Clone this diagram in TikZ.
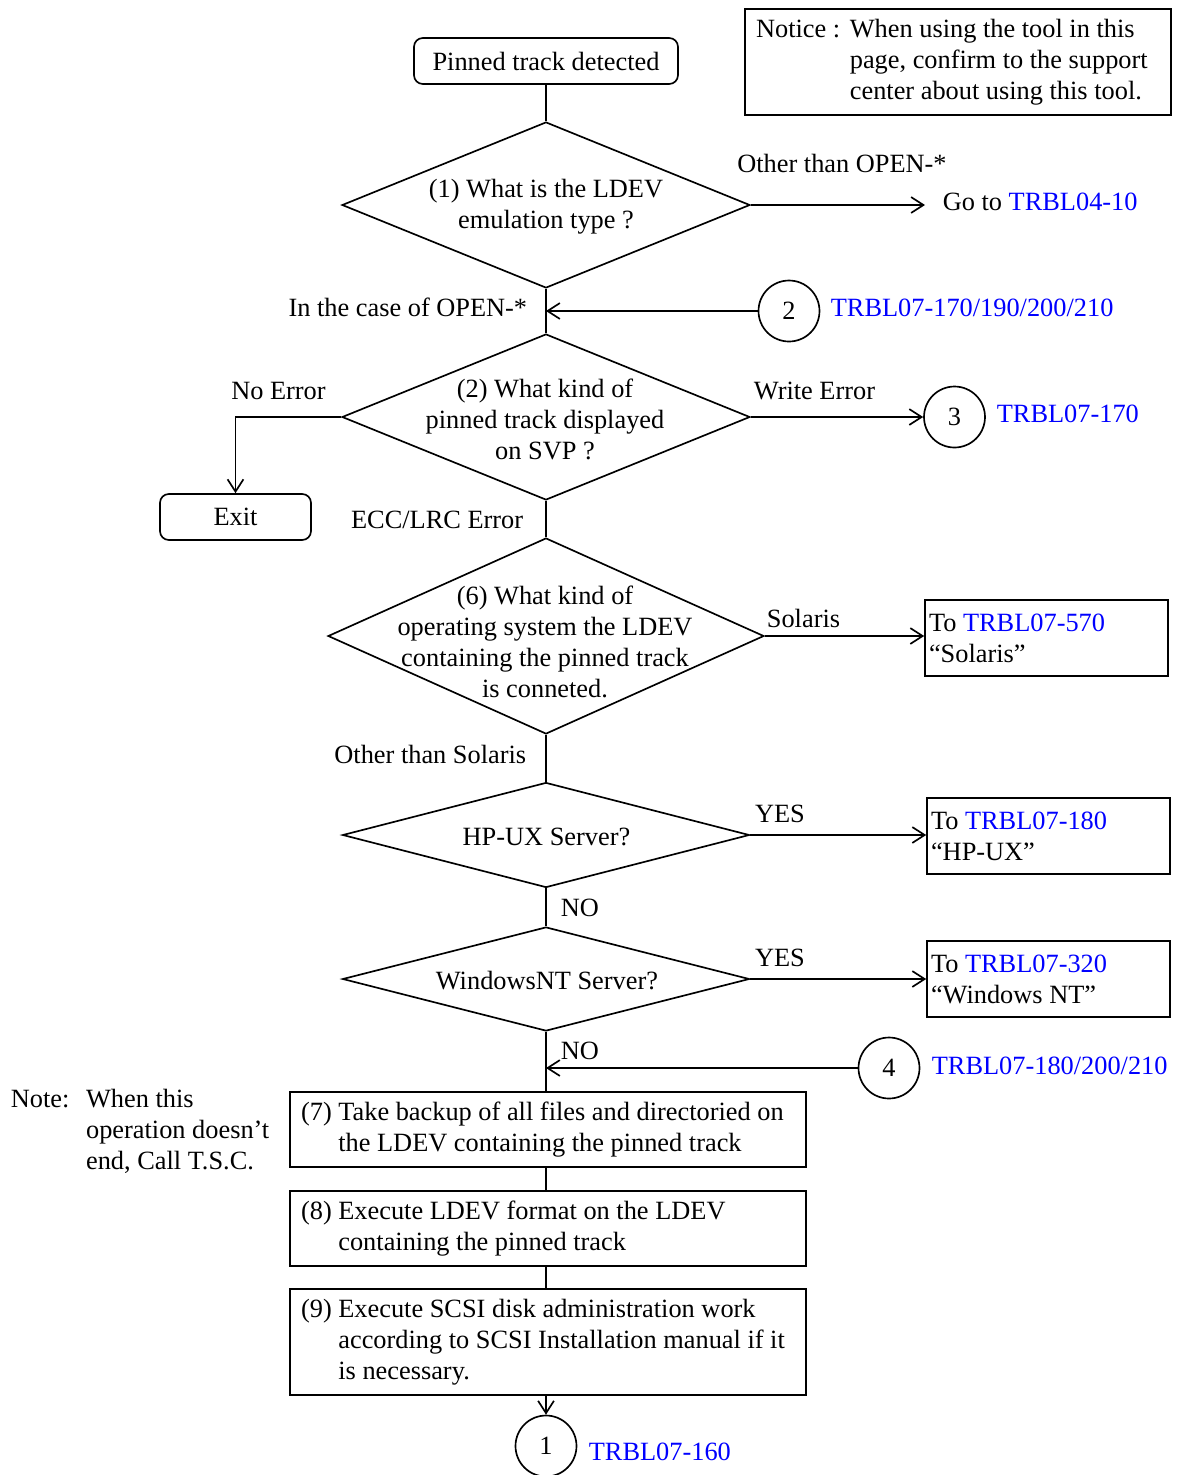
\documentclass[tikz,border=0pt]{standalone}
\usepackage{fontspec}
\setmainfont{Liberation Serif}
\usetikzlibrary{shapes.geometric,arrows.meta}
\definecolor{lnk}{RGB}{0,0,255}
% plain interword spacing inside left-aligned nodes
\newcommand{\natsp}{\spaceskip=0pt\xspaceskip=0pt\relax}
\begin{document}
\begin{tikzpicture}[x=0.02cm,y=-0.02cm,line width=0.95pt,
  font=\fontsize{15}{17.6}\selectfont,
  lbl/.style={inner sep=0pt, text height=11pt, text depth=3pt},
  term/.style={draw, rounded corners=5pt, minimum height=0.92cm, inner sep=0pt},
  dia/.style={draw, diamond, inner sep=0pt},
  dtext/.style={align=center, inner sep=0pt},
  conn/.style={draw, circle, minimum size=1.22cm, inner sep=0pt},
  rbox/.style={draw, minimum width=4.86cm, minimum height=1.52cm, text width=4.70cm,
    inner xsep=0.08cm, inner ysep=0pt, align=left},
  pbox/.style={draw, text width=9.88cm, inner xsep=0.22cm, inner ysep=0pt, align=left},
  arr/.style={-{Straight Barb[length=7pt,width=9pt]}},
]
\useasboundingbox (0,0) rectangle (1177,1475);

% notice box
\node[draw, minimum width=8.52cm, minimum height=2.12cm, text width=8.08cm,
  inner xsep=0.22cm, inner ysep=0pt, align=left] (notice) at (958,62)
  {\natsp\begin{tabular}{@{}l@{\hspace{5.5pt}}l@{}}Notice : & When using the tool in this\\
   & page, confirm to the support\\ & center about using this tool.\end{tabular}};

% main flow
\node[term, minimum width=5.28cm] (start) at (546,61) {Pinned track detected};

\node[dia, minimum width=8.16cm, minimum height=3.32cm] (d1) at (546,205) {};
\node[dtext] (d1t) at (546,207) {(1) What is the LDEV\\emulation type ?};

\node[dia, minimum width=8.16cm, minimum height=3.32cm] (d2) at (546,417) {};
\node[dtext] (d2t) at (545,419) {(2) What kind of\\pinned track displayed\\on SVP ?};

\node[term, minimum width=3.02cm] (exit) at (235.5,517) {Exit};

\node[dia, minimum width=8.72cm, minimum height=3.92cm] (d3) at (546,636) {};
\node[dtext] (d3t) at (545,642) {(6) What kind of\\operating system the LDEV\\containing the pinned track\\is conneted.};

\node[dia, minimum width=8.14cm, minimum height=2.10cm] (d4) at (546,835) {};
\node[dtext] (d4t) at (546.5,837) {HP-UX Server?};

\node[dia, minimum width=8.14cm, minimum height=2.08cm] (d5) at (546,979) {};
\node[dtext] (d5t) at (547,981) {WindowsNT Server?};

\node[pbox, minimum height=1.5cm] (b7) at (548,1129.5)
  {\natsp\begin{tabular}{@{}l@{\ }l@{}}(7) & Take backup of all files and directoried on\\
   & the LDEV containing the pinned track\end{tabular}};
\node[pbox, minimum height=1.5cm] (b8) at (548,1228.5)
  {\natsp\begin{tabular}{@{}l@{\ }l@{}}(8) & Execute LDEV format on the LDEV\\
   & containing the pinned track\end{tabular}};
\node[pbox, minimum height=2.12cm] (b9) at (548,1342)
  {\natsp\begin{tabular}{@{}l@{\ }l@{}}(9) & Execute SCSI disk administration work\\
   & according to SCSI Installation manual if it\\ & is necessary.\end{tabular}};

% off-page connectors
\node[conn] (c2) at (789,311) {2};
\node[conn] (c3) at (954.5,417) {3};
\node[conn] (c4) at (889,1068) {4};
\node[conn] (c1) at (546,1446) {1};
\node[lbl, anchor=west] (c2t) at (830,309) {\textcolor{lnk}{TRBL07-170/190/200/210}};
\node[lbl, anchor=west] (c3t) at (996,415) {\textcolor{lnk}{TRBL07-170}};
\node[lbl, anchor=west] (c4t) at (931,1067) {\textcolor{lnk}{TRBL07-180/200/210}};
\node[lbl, anchor=west] (c1t) at (588,1453) {\textcolor{lnk}{TRBL07-160}};

% destination boxes
\node[rbox] (sol) at (1046.5,638) {\natsp To \textcolor{lnk}{TRBL07-570}\\“Solaris”};
\node[rbox] (hp) at (1048.5,836) {\natsp To \textcolor{lnk}{TRBL07-180}\\“HP-UX”};
\node[rbox] (nt) at (1048.5,979) {\natsp To \textcolor{lnk}{TRBL07-320}\\“Windows NT”};

\coordinate (g1) at (925,205);
\node[lbl, anchor=west] (goto) at (942,203) {Go to \textcolor{lnk}{TRBL04-10}};

% branch labels
\node[lbl] (oth) at (842,165) {Other than OPEN-*};
\node[lbl, anchor=east] (case) at (528,309) {In the case of OPEN-*};
\node[lbl] (noerr) at (278.5,392) {No Error};
\node[lbl] (wrerr) at (814.5,392) {Write Error};
\node[lbl, anchor=east] (ecc) at (524,521) {ECC/LRC Error};
\node[lbl] (solt) at (803.5,620) {Solaris};
\node[lbl, anchor=east] (oths) at (527,756) {Other than Solaris};
\node[lbl] (yes1) at (780,815) {YES};
\node[lbl, anchor=west] (no1) at (560,909) {NO};
\node[lbl] (yes2) at (780,959) {YES};
\node[lbl, anchor=west] (no2) at (560,1052) {NO};

% side note
\node[inner sep=0pt, anchor=west] (note) at (10,1132)
  {\begin{tabular}{@{}l@{\hspace{9.5pt}}l@{}}Note: & When this\\
   & operation doesn’t\\ & end, Call T.S.C.\end{tabular}};

% connectors
\draw (start.south) -- (d1.north);
\draw[arr] (d1.east) -- (g1);
\draw (d1.south) -- (d2.north);
\draw[arr] (c2.west) -- (c2.west -| d1.south);
\draw[arr] (d2.west) -| (exit.north);
\draw[arr] (d2.east) -- (c3.west);
\draw (d2.south) -- (d3.north);
\draw[arr] (d3.east) -- (d3.east -| sol.west);
\draw (d3.south) -- (d4.north);
\draw[arr] (d4.east) -- (d4.east -| hp.west);
\draw (d4.south) -- (d5.north);
\draw[arr] (d5.east) -- (d5.east -| nt.west);
\draw (d5.south) -- (d5.south |- b7.north);
\draw[arr] (c4.west) -- (c4.west -| d5.south);
\draw (b7.south -| d5.south) -- (b8.north -| d5.south);
\draw (b8.south -| d5.south) -- (b9.north -| d5.south);
\draw[arr] (b9.south -| d5.south) -- (c1.north);
\end{tikzpicture}
\end{document}
